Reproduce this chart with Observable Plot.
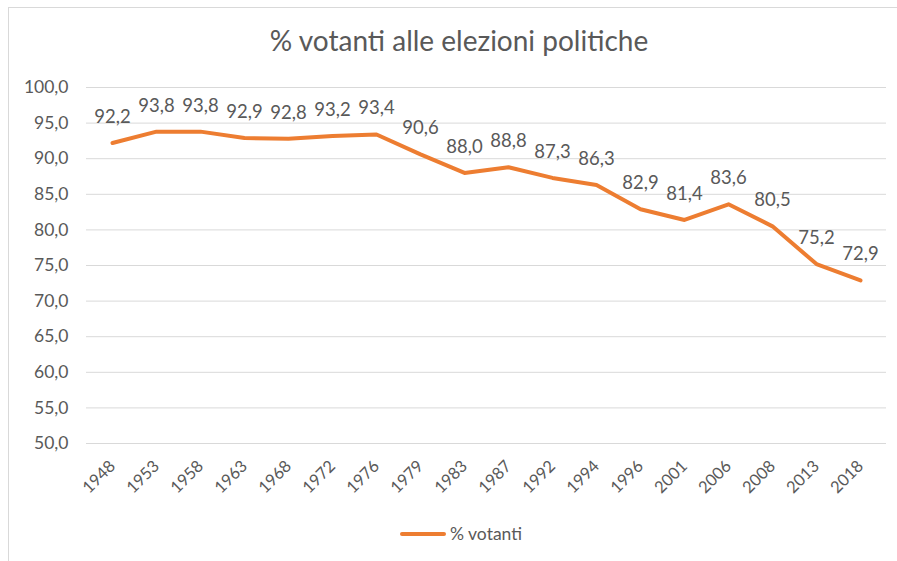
<!DOCTYPE html>
<html>
<head>
<meta charset="utf-8">
<script src="https://cdn.jsdelivr.net/npm/d3@7"></script>
<script src="https://cdn.jsdelivr.net/npm/@observablehq/plot@0.6"></script>
<style>
  html, body { margin: 0; padding: 0; background: #fff; }
  #wrap { position: relative; width: 897px; height: 561px; overflow: hidden; font-family: Lato, "Open Sans", sans-serif; }
  #frame { position: absolute; left: 8px; top: 7px; width: 1000px; height: 600px; border-left: 1px solid #d9d9d9; border-top: 1px solid #d9d9d9; }
  #title { position: absolute; left: 0; width: 918px; top: 23px; text-align: center; font-size: 28px; color: #595959; }
  #legend { position: absolute; left: 400px; top: 523px; font-size: 17.5px; color: #595959; display: flex; align-items: center; }
  #legend .sw { width: 46px; height: 4px; background: #ED7D31; margin-right: 4px; border-radius: 2px; }
  #chart { position: absolute; left: 0; top: 0; }
</style>
</head>
<body>
<div id="wrap">
  <div id="frame"></div>
  <div id="chart"></div>
  <div id="title">% votanti alle elezioni politiche</div>
  <div id="legend"><div class="sw"></div><span>% votanti</span></div>
</div>
<script>
const years = ["1948","1953","1958","1963","1968","1972","1976","1979","1983","1987","1992","1994","1996","2001","2006","2008","2013","2018"];
const votanti = [92.2, 93.8, 93.8, 92.9, 92.8, 93.2, 93.4, 90.6, 88.0, 88.8, 87.3, 86.3, 82.9, 81.4, 83.6, 80.5, 75.2, 72.9];
const yTicks = [50, 55, 60, 65, 70, 75, 80, 85, 90, 95, 100];

const data = years.map((y, i) => ({year: y, value: votanti[i]}));
const fmt = d => d.toFixed(1).replace(".", ",");

const chart = Plot.plot({
  width: 897,
  height: 561,
  marginLeft: 86,
  marginRight: 11,
  marginTop: 87,
  marginBottom: 118,
  style: {fontFamily: "Lato, 'Open Sans', sans-serif", color: "#595959", background: "transparent"},
  x: {type: "point", domain: years, padding: 0.5, label: null},
  y: {domain: [50, 100], label: null},
  marks: [
    Plot.gridY(yTicks, {stroke: "#d9d9d9", strokeOpacity: 1, strokeWidth: 1}),
    Plot.axisY(yTicks, {tickSize: 0, tickPadding: 18, tickFormat: fmt, fontSize: 17.5, fill: "#595959", label: null}),
    Plot.axisX({tickSize: 0, tickRotate: -45, tickPadding: 20, fontSize: 16.5, fill: "#595959", label: null}),
    Plot.line(data, {x: "year", y: "value", stroke: "#ED7D31", strokeWidth: 4, strokeLinejoin: "round", strokeLinecap: "round"}),
    Plot.text(data, {x: "year", y: "value", text: d => fmt(d.value), dy: -26, fontSize: 18.5, fill: "#595959"})
  ]
});
document.getElementById("chart").appendChild(chart);
</script>
</body>
</html>
